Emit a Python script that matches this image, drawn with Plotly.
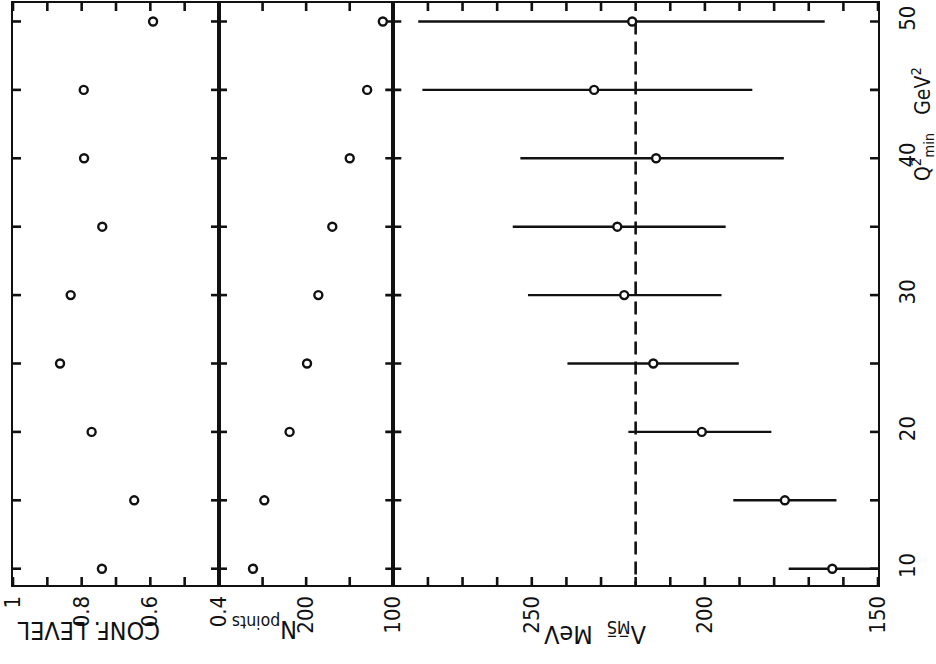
import plotly.graph_objects as go

# Q^2_min cut values (GeV^2)
q2_min = [10, 15, 20, 25, 30, 35, 40, 45, 50]

# Fit confidence level for each cut
conf_level = [0.741, 0.647, 0.771, 0.863, 0.832, 0.740, 0.793, 0.794, 0.592]

# Number of data points entering the fit
n_points = [261, 248, 219, 199, 186, 170, 150, 130, 112]

# Lambda_MSbar (MeV) with asymmetric errors
lam = [163.2, 176.9, 200.9, 214.9, 223.3, 225.3, 214.1, 232.0, 221.0]
lam_hi = [175.8, 191.8, 222.1, 239.7, 251.1, 255.5, 253.3, 281.6, 282.8]
lam_lo = [150.0, 162.0, 180.8, 190.2, 195.2, 194.0, 177.2, 186.3, 165.4]
lam_err_plus = [h - c for h, c in zip(lam_hi, lam)]
lam_err_minus = [c - l for c, l in zip(lam, lam_lo)]

# Reference value of Lambda drawn as a dashed line
lam_ref = 220

# Tick positions and labels
conf_ticks = [1.0, 0.9, 0.8, 0.7, 0.6, 0.5, 0.4]
conf_ticktext = ["1", "", "0.8", "", "0.6", "", "0.4"]
n_ticks = [300, 250, 200, 150, 100]
n_ticktext = ["", "", "200", "", "100"]
lam_ticks = list(range(290, 149, -10))
lam_ticktext = [str(v) if v in (250, 200, 150) else "" for v in lam_ticks]
q_ticks = [10, 15, 20, 25, 30, 35, 40, 45, 50]
q_ticktext = ["10", "", "20", "", "30", "", "40", "", "50"]

# Axis ranges (value axes run right-to-left)
Q_RANGE = [8.81, 51.35]
CONF_RANGE = [1.0, 0.4]
N_RANGE = [300, 100]
LAM_RANGE = [290, 150]

FONT = "DejaVu Sans Condensed, DejaVu Sans, sans-serif"
INK = "#111111"
TICK_PX = 8

# Figure geometry (pixels)
W_FIG, H_FIG = 936, 664
M_L, M_R, M_T, M_B = 13, 58, 3, 79
PW = W_FIG - M_L - M_R
PH = H_FIG - M_T - M_B


def px(x):
    return (x - M_L) / PW


def py(y):
    return 1 - (y - M_T) / PH


d1 = px(219)
d2 = px(393.3)
DOMAINS = [[0, d1], [d1, d2], [d2, 1]]

marker_style = dict(symbol="circle", size=8, color="white",
                    line=dict(color=INK, width=2.4))

fig = go.Figure()


def add_frame_ticks(xvals, xrange, domain, xa, ya):
    """Inward tick marks on the four sides of one panel, drawn as short
    line segments whose length is converted from pixels to data units."""
    dq = (Q_RANGE[1] - Q_RANGE[0]) * TICK_PX / PH
    dx = (xrange[1] - xrange[0]) * TICK_PX / (PW * (domain[1] - domain[0]))
    xs, ys = [], []
    for v in xvals:
        xs += [v, v, None, v, v, None]
        ys += [Q_RANGE[0], Q_RANGE[0] + dq, None,
               Q_RANGE[1], Q_RANGE[1] - dq, None]
    for q in q_ticks:
        xs += [xrange[0], xrange[0] + dx, None,
               xrange[1], xrange[1] - dx, None]
        ys += [q, q, None, q, q, None]
    fig.add_trace(go.Scatter(x=xs, y=ys, mode="lines",
                             line=dict(color=INK, width=2.6),
                             hoverinfo="skip", showlegend=False,
                             xaxis=xa, yaxis=ya))


add_frame_ticks(conf_ticks, CONF_RANGE, DOMAINS[0], "x", "y")
add_frame_ticks(n_ticks, N_RANGE, DOMAINS[1], "x2", "y2")
add_frame_ticks(lam_ticks, LAM_RANGE, DOMAINS[2], "x3", "y3")

fig.add_trace(go.Scatter(x=conf_level, y=q2_min, mode="markers",
                         marker=marker_style, xaxis="x", yaxis="y",
                         showlegend=False))
fig.add_trace(go.Scatter(x=n_points, y=q2_min, mode="markers",
                         marker=marker_style, xaxis="x2", yaxis="y2",
                         showlegend=False))
fig.add_trace(go.Scatter(x=[lam_ref, lam_ref], y=[q2_min[-1], Q_RANGE[0]],
                         mode="lines",
                         line=dict(color=INK, width=2.6, dash="13px,7px"),
                         xaxis="x3", yaxis="y3", showlegend=False))
fig.add_trace(go.Scatter(x=lam, y=q2_min, mode="markers",
                         marker=marker_style,
                         error_x=dict(type="data", symmetric=False,
                                      array=lam_err_plus,
                                      arrayminus=lam_err_minus,
                                      color=INK, thickness=2.4, width=0),
                         xaxis="x3", yaxis="y3", showlegend=False))

tick_font = dict(family=FONT, size=22, color=INK)
common_x = dict(ticks="", showline=True, linewidth=2.2, linecolor=INK,
                mirror=True, showgrid=False, zeroline=False, tickangle=-90,
                tickfont=tick_font, tickmode="array")
common_y = dict(ticks="", showline=True, linewidth=2.2, linecolor=INK,
                mirror=True, showgrid=False, zeroline=False, range=Q_RANGE,
                tickmode="array", tickvals=q_ticks, domain=[0, 1])

fig.update_layout(
    width=W_FIG, height=H_FIG,
    margin=dict(l=M_L, r=M_R, t=M_T, b=M_B, autoexpand=False),
    paper_bgcolor="white", plot_bgcolor="white",
    xaxis=dict(domain=DOMAINS[0], range=CONF_RANGE, anchor="y",
               tickvals=conf_ticks, ticktext=conf_ticktext, **common_x),
    xaxis2=dict(domain=DOMAINS[1], range=N_RANGE, anchor="y2",
                tickvals=n_ticks, ticktext=n_ticktext, **common_x),
    xaxis3=dict(domain=DOMAINS[2], range=LAM_RANGE, anchor="y3",
                tickvals=lam_ticks, ticktext=lam_ticktext, **common_x),
    yaxis=dict(anchor="x", showticklabels=False, **common_y),
    yaxis2=dict(anchor="x2", showticklabels=False, **common_y),
    yaxis3=dict(anchor="x3", side="right", ticktext=q_ticktext,
                tickangle=-90, tickfont=tick_font, ticklabelstandoff=8,
                **common_y),
)

title_font = dict(family=FONT, size=25, color=INK)
annotations = [
    dict(text="CONF. LEVEL", x=px(89), y=py(631), textangle=180),
    dict(text="N<sub>points</sub>", x=px(265), y=py(628), textangle=180),
    dict(text="\u039b<sub>M\u0305S\u0305</sub>  MeV", x=px(595), y=py(633),
         textangle=180),
    dict(text="Q<sup>2</sup><sub>min</sub>   GeV<sup>2</sup>", x=px(922),
         y=py(124), textangle=-90, font=dict(family=FONT, size=21, color=INK)),
]
for a in annotations:
    a.setdefault("font", title_font)
    fig.add_annotation(xref="paper", yref="paper", showarrow=False,
                       xanchor="center", yanchor="middle", **a)

fig.write_html("out.html")
